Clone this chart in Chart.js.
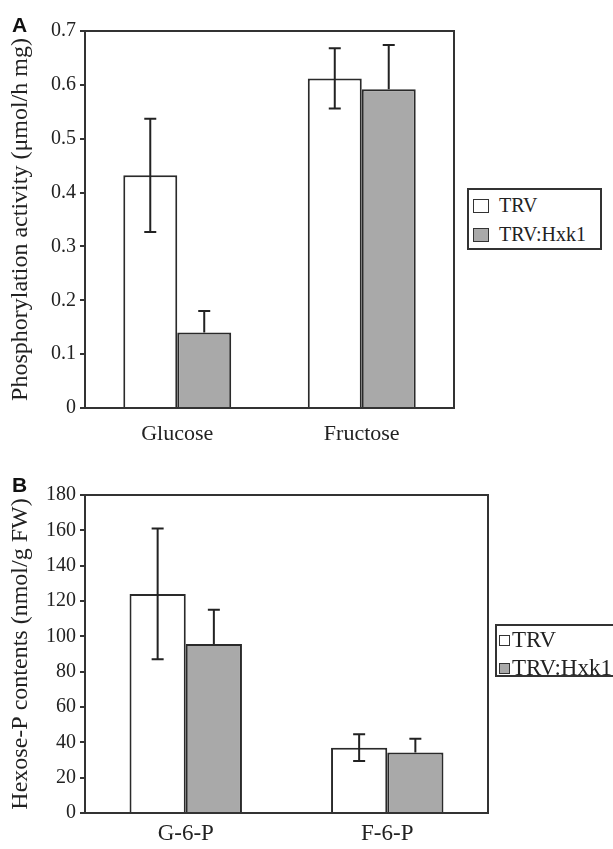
<!DOCTYPE html>
<html>
<head>
<meta charset="utf-8">
<script src="https://cdn.jsdelivr.net/npm/chart.js@4.4.1/dist/chart.umd.min.js"></script>
<style>
  html, body { margin: 0; padding: 0; background: #fff; overflow: hidden; }
  #page { position: relative; width: 613px; height: 849px; overflow: hidden; }
  .panel { position: absolute; left: 0; width: 613px; }
  #panelA { top: 0; height: 450px; }
  #panelB { top: 450px; height: 399px; }
  .letter { position: absolute; font: bold 21px "Liberation Sans", Arial, sans-serif; line-height: 21px; color: #111; }
  .legend { position: absolute; border: 2px solid #333; box-sizing: border-box; font-family: "Liberation Serif", serif; color: #222; background: #fff; }
  .legend .row { position: absolute; left: 0; display: flex; align-items: center; white-space: nowrap; }
  .legend .sw { border: 1.5px solid #333; box-sizing: border-box; flex: none; }
</style>
</head>
<body>
<div id="page">
  <div class="panel" id="panelA"><canvas id="chartA"></canvas></div>
  <div class="panel" id="panelB"><canvas id="chartB"></canvas></div>
  <div class="letter" style="left:12px; top:14px;">A</div>
  <div class="letter" style="left:12px; top:474px;">B</div>
  <div class="legend" id="legendA" style="left:467px; top:188px; width:135px; height:62px;"></div>
  <div class="legend" id="legendB" style="left:495px; top:624px; width:140px; height:53px;"></div>
</div>
<script>
// panel A - hexokinase activity
const categoriesA = ['Glucose', 'Fructose'];
const trvA = [0.432, 0.612];
const trvErrA = [0.105, 0.056];
const hxkA = [0.140, 0.592];
const hxkErrA = [0.040, 0.082];
const yTicksA = ['0', '0.1', '0.2', '0.3', '0.4', '0.5', '0.6', '0.7'];

// panel B - hexose-P
const categoriesB = ['G-6-P', 'F-6-P'];
const trvB = [124, 37];
const trvErrB = [37, 7.6];
const hxkB = [95.6, 34.2];
const hxkErrB = [19.4, 7.8];
const yTicksB = ['0', '20', '40', '60', '80', '100', '120', '140', '160', '180'];

const seriesNames = ['TRV', 'TRV:Hxk1'];

const errorBars = {
  id: 'errorBars',
  afterDatasetsDraw(chart) {
    const ctx = chart.ctx;
    const y = chart.scales.y;
    ctx.save();
    ctx.strokeStyle = '#222';
    ctx.lineWidth = 2;
    chart.data.datasets.forEach((ds, di) => {
      chart.getDatasetMeta(di).data.forEach((bar, i) => {
        const v = ds.data[i], e = ds.errors[i];
        const both = ds.errMode === 'both';
        const top = y.getPixelForValue(v + e);
        const bot = y.getPixelForValue(both ? v - e : v);
        ctx.beginPath();
        ctx.moveTo(bar.x, top); ctx.lineTo(bar.x, bot);
        ctx.moveTo(bar.x - 6, top); ctx.lineTo(bar.x + 6, top);
        if (both) { ctx.moveTo(bar.x - 6, bot); ctx.lineTo(bar.x + 6, bot); }
        ctx.stroke();
      });
    });
    ctx.restore();
  }
};

const frame = {
  id: 'frame',
  afterDraw(chart) {
    const a = chart.chartArea, ctx = chart.ctx;
    ctx.save();
    ctx.strokeStyle = '#333';
    ctx.lineWidth = 2;
    ctx.strokeRect(a.left, a.top, a.right - a.left, a.bottom - a.top);
    ctx.restore();
  }
};

function makePanel(id, o) {
  return new Chart(document.getElementById(id), {
    type: 'bar',
    data: {
      labels: o.labels,
      datasets: [
        { label: seriesNames[0], data: o.trv, errors: o.trvErr, errMode: 'both',
          backgroundColor: '#ffffff', borderColor: '#2a2a2a', borderWidth: 2,
          categoryPercentage: o.catPct, barPercentage: 1 },
        { label: seriesNames[1], data: o.hxk, errors: o.hxkErr, errMode: 'plus',
          backgroundColor: '#a9a9a9', borderColor: '#2a2a2a', borderWidth: 2,
          categoryPercentage: o.catPct, barPercentage: 1 }
      ]
    },
    options: {
      responsive: true,
      maintainAspectRatio: false,
      animation: false,
      layout: { padding: { top: o.top, right: o.right, left: 0, bottom: 0 } },
      plugins: { legend: { display: false }, tooltip: { enabled: false } },
      scales: {
        x: {
          grid: { display: false, drawTicks: false },
          border: { display: false },
          ticks: { font: { size: o.xFont }, color: '#222', padding: o.xPad },
          afterFit: s => { s.height = o.xHeight; }
        },
        y: {
          min: 0, max: o.max,
          ticks: { stepSize: o.step, font: { size: 20 }, color: '#222', padding: 4,
                   callback: (v, i) => o.ticks[i] },
          grid: { drawOnChartArea: false, drawTicks: true, tickLength: 5, color: '#333', lineWidth: 2 },
          border: { display: false },
          title: { display: true, text: o.title, font: { size: 24 }, color: '#222', padding: { top: 6, bottom: 0 } },
          afterFit: s => { s.width = 85; }
        }
      }
    },
    plugins: [errorBars, frame]
  });
}

function buildLegend(el, chart, o) {
  chart.data.datasets.forEach((ds, i) => {
    const row = document.createElement('div');
    row.className = 'row';
    row.style.top = (o.rowTop + i * o.rowH) + 'px';
    row.style.height = o.rowH + 'px';
    row.style.fontSize = o.font + 'px';
    row.style.paddingLeft = o.swLeft + 'px';
    const sw = document.createElement('span');
    sw.className = 'sw';
    sw.style.width = o.swW + 'px';
    sw.style.height = o.swH + 'px';
    sw.style.background = ds.backgroundColor;
    sw.style.marginRight = o.gap + 'px';
    const tx = document.createElement('span');
    tx.textContent = ds.label;
    row.appendChild(sw);
    row.appendChild(tx);
    el.appendChild(row);
  });
}

Chart.defaults.font.family = '"Liberation Serif", "Times New Roman", serif';
Chart.defaults.color = '#222';

const chartA = makePanel('chartA', {
  labels: categoriesA, trv: trvA, trvErr: trvErrA, hxk: hxkA, hxkErr: hxkErrA,
  ticks: yTicksA, max: 0.7, step: 0.1, catPct: 0.585,
  top: 31, right: 159, xHeight: 42, xFont: 22, xPad: 13,
  title: 'Phosphorylation activity (μmol/h mg)'
});

const chartB = makePanel('chartB', {
  labels: categoriesB, trv: trvB, trvErr: trvErrB, hxk: hxkB, hxkErr: hxkErrB,
  ticks: yTicksB, max: 180, step: 20, catPct: 0.558,
  top: 45, right: 125, xHeight: 36, xFont: 23, xPad: 7,
  title: 'Hexose-P contents (nmol/g FW)'
});

buildLegend(document.getElementById('legendA'), chartA,
  { rowTop: 1, rowH: 29, font: 20, swLeft: 4, swW: 16, swH: 14, gap: 10 });
buildLegend(document.getElementById('legendB'), chartB,
  { rowTop: 0, rowH: 28, font: 23, swLeft: 2, swW: 11, swH: 11, gap: 2 });
</script>
</body>
</html>
